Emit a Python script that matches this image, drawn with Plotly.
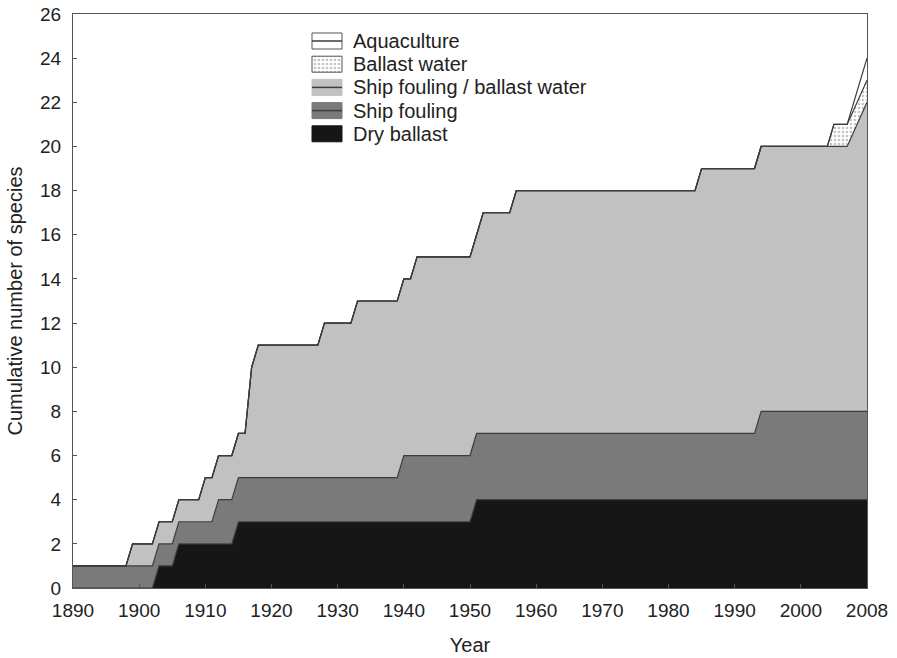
import plotly.graph_objects as go

# ---- data: cumulative number of species per vector (change-points) ----
grid_years = list(range(1890, 2008)) + [2010]   # last plotted point sits on the "2008" tick

dry_ballast_years = [1890, 1903, 1906, 1915, 1951]
dry_ballast_counts = [0, 1, 2, 3, 4]

ship_fouling_years = [1890, 1912, 1940, 1994]
ship_fouling_counts = [1, 2, 3, 4]

sf_bw_years = [1890, 1899, 1910, 1917, 1918, 1928, 1933, 1942, 1952, 1957, 1985, 2010]
sf_bw_counts = [0, 1, 2, 5, 6, 7, 8, 9, 10, 11, 12, 14]

ballast_water_years = [1890, 2005]
ballast_water_counts = [0, 1]

aquaculture_years = [1890, 2010]
aquaculture_counts = [0, 1]

x_tick_vals = [1890, 1900, 1910, 1920, 1930, 1940, 1950, 1960, 1970, 1980, 1990, 2000, 2010]
x_tick_text = ["1890", "1900", "1910", "1920", "1930", "1940", "1950", "1960",
               "1970", "1980", "1990", "2000", "2008"]
y_tick_vals = list(range(0, 27, 2))


def hold(knot_years, knot_counts, grid):
    out = []
    for g in grid:
        v = knot_counts[0]
        for ky, kc in zip(knot_years, knot_counts):
            if ky <= g:
                v = kc
        out.append(v)
    return out


FONT = "Liberation Sans, Arial, sans-serif"
EDGE = "#3c3c3c"
LINE = dict(color=EDGE, width=1.2)
DOTS = dict(shape=".", fgcolor="#8a8a8a", bgcolor="white", size=4, solidity=0.35)

# name, knots, counts, fill colour, pattern, legend line through middle
series = [
    ("Dry ballast", dry_ballast_years, dry_ballast_counts, "#161616", None, False),
    ("Ship fouling", ship_fouling_years, ship_fouling_counts, "#7a7a7a", None, True),
    ("Ship fouling / ballast water", sf_bw_years, sf_bw_counts, "#c0c1c0", None, True),
    ("Ballast water", ballast_water_years, ballast_water_counts, "white", DOTS, False),
    ("Aquaculture", aquaculture_years, aquaculture_counts, "white", None, True),
]

fig = go.Figure()
for name, ky, kc, color, pattern, _ in series:
    kw = dict(fillpattern=pattern) if pattern else {}
    fig.add_trace(go.Scatter(
        x=grid_years, y=hold(ky, kc, grid_years), name=name,
        mode="lines", line=LINE, stackgroup="one", fill="tonexty",
        fillcolor=color, hoverinfo="x+y+name", showlegend=False, **kw))

# ---- custom legend (boxes like the original), placed on a hidden pixel-unit overlay axis ----
PLOT_L, PLOT_R, PLOT_T, PLOT_B = 73, 867, 14, 588
LEG_X, LEG_Y, LEG_STEP, BOX_W, BOX_H = 312, 41, 23.2, 30, 16
for i, (name, _, _, color, pattern, midline) in enumerate(reversed(series)):
    cy = LEG_Y + i * LEG_STEP
    x0, x1, y0, y1 = LEG_X, LEG_X + BOX_W, cy - BOX_H / 2, cy + BOX_H / 2
    kw = dict(fillpattern=pattern) if pattern else {}
    fig.add_trace(go.Scatter(
        x=[x0, x1, x1, x0, x0], y=[y0, y0, y1, y1, y0], xaxis="x2", yaxis="y2",
        mode="lines", fill="toself", fillcolor=color,
        line=dict(color="#555" if color == "white" else color, width=1),
        showlegend=False, hoverinfo="skip", **kw))
    if midline:
        fig.add_trace(go.Scatter(
            x=[x0, x1], y=[cy, cy], xaxis="x2", yaxis="y2", mode="lines",
            line=dict(color=EDGE, width=1.5), showlegend=False, hoverinfo="skip"))
    fig.add_annotation(x=x1 + 9, y=cy, xref="x2", yref="y2", text=name, showarrow=False,
                       xanchor="left", yanchor="middle",
                       font=dict(family=FONT, size=20, color="#222"))

fig.update_layout(
    width=897, height=658,
    margin=dict(l=PLOT_L, r=897 - PLOT_R, t=PLOT_T, b=658 - PLOT_B, autoexpand=False),
    paper_bgcolor="white", plot_bgcolor="white",
    font=dict(family=FONT, size=19, color="#222"),
    showlegend=False,
    xaxis=dict(range=[1890, 2010], tickvals=x_tick_vals, ticktext=x_tick_text,
               ticks="inside", ticklen=4, tickcolor="#555", showline=True, linecolor="#555",
               linewidth=1, mirror=True, showgrid=False, zeroline=False, automargin=False,
               ticklabelstandoff=5,
               title=dict(text="Year", standoff=18, font=dict(size=20)),
               tickfont=dict(size=19)),
    yaxis=dict(range=[0, 26], tickvals=y_tick_vals, ticks="inside", ticklen=4,
               tickcolor="#555", showline=True, linecolor="#555", linewidth=1, mirror=True,
               showgrid=False, zeroline=False, automargin=False, ticklabelstandoff=7,
               title=dict(text="Cumulative number of species", standoff=12, font=dict(size=20)),
               tickfont=dict(size=19)),
    xaxis2=dict(range=[PLOT_L, PLOT_R], overlaying="x", visible=False, fixedrange=True),
    yaxis2=dict(range=[PLOT_B, PLOT_T], overlaying="y", visible=False, fixedrange=True),
)

fig.write_html("out.html")
